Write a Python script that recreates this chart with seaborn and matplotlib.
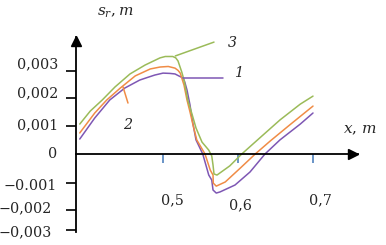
import matplotlib
matplotlib.use("Agg")
import matplotlib.pyplot as plt
import numpy as np
import pandas as pd
import seaborn as sns

# ---- data ----
X1 = [0.389, 0.409, 0.429, 0.449, 0.469, 0.480, 0.489, 0.500, 0.509, 0.516, 0.521, 0.527, 0.529,
      0.532, 0.536, 0.539, 0.544, 0.553, 0.561, 0.565, 0.5667, 0.571, 0.576, 0.596, 0.616, 0.636,
      0.656, 0.683, 0.700]
Y1 = [0.00054, 0.00130, 0.00195, 0.00238, 0.00267, 0.00277, 0.00285, 0.00292, 0.00291, 0.00289,
      0.00282, 0.00274, 0.00260, 0.00231, 0.00177, 0.00123, 0.00051, 0.0, -0.00076, -0.00094,
      -0.00130, -0.00141, -0.00137, -0.00112, -0.00065, 0.0, 0.00051, 0.00108, 0.00148]

X2 = [0.389, 0.409, 0.425, 0.443, 0.463, 0.483, 0.496, 0.507, 0.516, 0.520, 0.523, 0.528, 0.532,
      0.536, 0.540, 0.545, 0.556, 0.563, 0.5667, 0.567, 0.571, 0.583, 0.603, 0.623, 0.643, 0.669,
      0.700]
Y2 = [0.00076, 0.00148, 0.00195, 0.00238, 0.00282, 0.00307, 0.00314, 0.00316, 0.00310, 0.00302,
      0.00292, 0.00249, 0.00195, 0.00152, 0.00105, 0.00051, 0.0, -0.00058, -0.00076, -0.00105,
      -0.00116, -0.00101, -0.00051, 0.0, 0.00047, 0.00105, 0.00173]

X3 = [0.389, 0.403, 0.419, 0.436, 0.456, 0.476, 0.496, 0.503, 0.513, 0.517, 0.520, 0.525, 0.528,
      0.533, 0.539, 0.544, 0.552, 0.561, 0.565, 0.5667, 0.568, 0.572, 0.589, 0.605, 0.629, 0.656,
      0.683, 0.700]
Y3 = [0.00108, 0.00155, 0.00195, 0.00242, 0.00289, 0.00321, 0.00347, 0.00352, 0.00352, 0.00347,
      0.00336, 0.00296, 0.00267, 0.00195, 0.00141, 0.00094, 0.00043, 0.00014, -0.00007, -0.00040,
      -0.00072, -0.00076, -0.00043, 0.0, 0.00058, 0.00123, 0.00180, 0.00209]

SERIES = ["1", "2", "3"]
COLORS = ["#7E57B4", "#F08C46", "#9BBB59"]

XTICKS = [0.5, 0.6, 0.7]
XTICK_LABELS = ["0,5", "0,6", "0,7"]
YTICKS = [0.003, 0.00202, 0.001, 0.0, -0.00105, -0.00202, -0.00274]
YTICK_LABELS = ["0,003", "0,002", "0,001", "0", "\u22120.001", "\u22120,002", "\u22120,003"]

# curve-number callouts: label, line start (x, y), line end (x, y), text pos
LEADERS = [
    ("1", (0.5267, 0.00274), (0.580, 0.00274), (0.602, 0.00292)),
    ("2", (0.4467, 0.00242), (0.4533, 0.00184), (0.4533, 0.00105)),
    ("3", (0.5164, 0.00354), (0.5680, 0.00404), (0.592, 0.00400)),
]

# ---- build long table ----
frames = []
for name, xs, ys in zip(SERIES, [X1, X2, X3], [Y1, Y2, Y3]):
    frames.append(pd.DataFrame({"x": xs, "y": ys, "curve": name}))
df = pd.concat(frames, ignore_index=True)

sns.set_style("white")
plt.rcParams["font.family"] = ["DejaVu Serif", "DejaVu Sans"]
plt.rcParams["mathtext.fontset"] = "dejavuserif"

fig = plt.figure(figsize=(3.86, 2.45), dpi=100)
W, H = 386, 245
ax = fig.add_axes([76 / W, 13 / H, 282 / W, 195 / H])

sns.lineplot(data=df, x="x", y="y", hue="curve", palette=dict(zip(SERIES, COLORS)),
             sort=False, estimator=None, units="curve", legend=False, linewidth=1.1, ax=ax)

ax.set_xlim(0.384, 0.760)
ax.set_ylim(-0.002816, 0.004224)
ax.set_xlabel("")
ax.set_ylabel("")

for s in ["top", "right"]:
    ax.spines[s].set_visible(False)
ax.spines["left"].set_color("black")
ax.spines["left"].set_linewidth(1.3)
ax.spines["bottom"].set_position(("data", 0))
ax.spines["bottom"].set_color("black")
ax.spines["bottom"].set_linewidth(1.3)

# arrow heads
ax.plot(0, (232 - 41) / 195, marker="^", ms=7, color="black",
        transform=ax.transAxes, clip_on=False)
ax.plot((353 - 76) / 282, 0, marker=">", ms=7, color="black",
        transform=ax.get_yaxis_transform(), clip_on=False)

ax.set_xticks(XTICKS)
ax.tick_params(axis="x", direction="out", length=6.5, width=1.2, color="#4F81BD",
               labelbottom=False, bottom=True)
ax.set_yticks(YTICKS)
ax.tick_params(axis="y", direction="out", length=7.5, width=1.2, color="black",
               labelleft=False, left=True)
for t, v in zip(ax.yaxis.get_major_ticks(), YTICKS):
    if v == 0:
        t.tick1line.set_visible(False)

fs = 10.3
# x tick labels
xlab_dx = [9, 2, 7]       # pixel offsets of label centres from ticks
xlab_y = [200, 205, 200]  # pixel rows of label centres
for v, lab, dx, py in zip(XTICKS, XTICK_LABELS, xlab_dx, xlab_y):
    ax.annotate(lab, xy=(v, 0), xycoords=("data", "data"),
                xytext=(dx * 0.72, -(py - 154) * 0.72), textcoords="offset points",
                ha="center", va="center", fontsize=fs, annotation_clip=False)

# y tick labels
ylab_right = [58, 58, 58, 57, 57, 52, 52]
ylab_cy = [64, 93, 125, 154, 186, 208, 232]
ytick_py = [71, 98, 126, 154, 183, 210, 230]
for v, lab, rx, cy, ty in zip(YTICKS, YTICK_LABELS, ylab_right, ylab_cy, ytick_py):
    ax.annotate(lab, xy=(0, v), xycoords=("axes fraction", "data"),
                xytext=((rx - 76) * 0.72, -(cy - ty) * 0.72), textcoords="offset points",
                ha="right", va="center", fontsize=fs, annotation_clip=False)

# axis titles
fig.text(115 / W, 1 - 13 / H, r"$s_r,m$", ha="center", va="center", fontsize=11)
fig.text(360 / W, 1 - 130 / H, r"$x,\,m$", ha="center", va="center", fontsize=11)

# callouts
color_map = dict(zip(SERIES, COLORS))
for lab, p0, p1, tp in LEADERS:
    ax.plot([p0[0], p1[0]], [p0[1], p1[1]], color=color_map[lab], lw=1.1, clip_on=False)
    ax.text(tp[0], tp[1], lab, ha="center", va="center", fontsize=fs,
            style="italic", clip_on=False)

fig.savefig("out.png", dpi=100, facecolor="white")
